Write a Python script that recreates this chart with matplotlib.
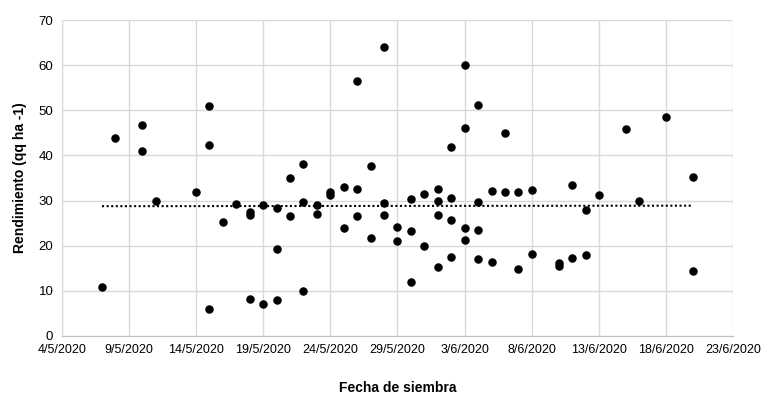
import datetime as dt
import numpy as np
import matplotlib
matplotlib.use("Agg")
import matplotlib.pyplot as plt
import matplotlib.dates as mdates

# fecha de siembra (dia, mes) y rendimiento (qq/ha)
dias = [7, 8, 10, 10, 11, 14, 15, 15, 15, 16, 17, 18, 18, 18,
        19, 19, 20, 20, 20, 21, 21, 22, 22, 22, 23, 23, 24, 24,
        25, 25, 26, 26, 26, 27, 27, 28, 28, 28, 29, 29, 30, 30, 30,
        31, 31, 1, 1, 1, 1, 2, 2, 2, 2, 3, 3, 3, 3, 4, 4, 4, 4,
        5, 5, 6, 6, 7, 7, 8, 8, 10, 10, 11, 11, 12, 12, 13, 15, 16,
        18, 20, 20]
meses = [5] * 45 + [6] * 36
rend = [10.7, 43.9, 46.8, 41.0, 29.9, 31.9, 51.0, 42.3, 6.0, 25.2, 29.3, 27.4, 26.8, 8.1,
        28.9, 7.0, 28.3, 19.2, 8.0, 35.1, 26.6, 38.1, 29.7, 9.9, 29.0, 27.1, 31.8, 31.2,
        32.9, 23.9, 56.5, 32.6, 26.6, 37.7, 21.7, 64.1, 29.5, 26.9, 24.1, 21.0, 30.3, 23.2, 11.9,
        31.4, 19.9, 32.6, 29.9, 26.8, 15.2, 41.9, 30.6, 25.7, 17.5, 60.1, 46.1, 23.9, 21.2,
        51.2, 29.7, 23.5, 17.0, 32.1, 16.4, 45.0, 31.9, 31.9, 14.8, 32.3, 18.1, 16.1, 15.5,
        33.4, 17.2, 27.9, 17.9, 31.2, 45.9, 29.9, 48.6, 35.2, 14.4]

fechas = [dt.date(2020, m, d) for d, m in zip(dias, meses)]
x = mdates.date2num(fechas)

plt.rcParams["font.family"] = ["Liberation Sans Narrow", "Liberation Sans", "DejaVu Sans"]

fig = plt.figure(figsize=(7.75, 3.98), dpi=100)
ax = fig.add_axes([0.0796, 0.1565, 0.8666, 0.7925])

ax.scatter(x, rend, s=26, color="black", zorder=3)

# linea de tendencia lineal
a, b = np.polyfit(x, rend, 1)
xt = np.array([x.min(), x.max()])
ax.plot(xt, a * xt + b, color="black", lw=1.5, linestyle=(0, (1, 1.2)), zorder=2)

inicio = dt.date(2020, 5, 4)
ticks = [inicio + dt.timedelta(days=5 * i) for i in range(11)]
ax.set_xticks(mdates.date2num(ticks))
ax.set_xticklabels([f"{t.day}/{t.month}/{t.year}" for t in ticks], fontsize=9)
ax.set_xlim(mdates.date2num(ticks[0]), mdates.date2num(ticks[-1]))
ax.set_ylim(0, 70)
ax.set_yticks(range(0, 71, 10))
ax.tick_params(axis="y", labelsize=9.5)
ax.tick_params(length=0, pad=6)

ax.grid(True, color="#d9d9d9", lw=1)
ax.set_axisbelow(True)
for s in ["top", "right"]:
    ax.spines[s].set_visible(False)
ax.spines["left"].set_color("#d9d9d9")
ax.spines["bottom"].set_color("#bfbfbf")

ax.set_xlabel("Fecha de siembra", fontsize=10, fontweight="bold", labelpad=18)
ax.set_ylabel("Rendimiento (qq ha -1)", fontsize=10, fontweight="bold", labelpad=8)

fig.savefig("out.png", dpi=100)
